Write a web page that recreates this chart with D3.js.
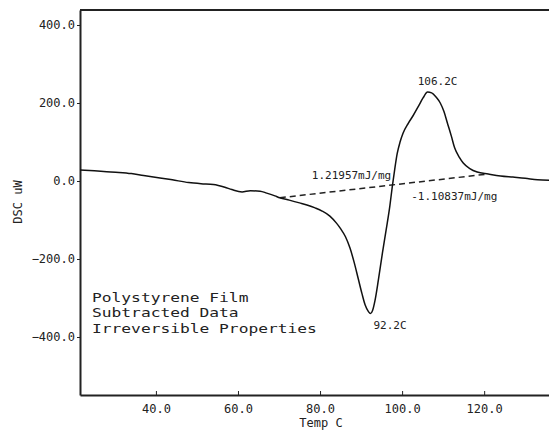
<!DOCTYPE html>
<html>
<head>
<meta charset="utf-8">
<script src="https://cdn.jsdelivr.net/npm/d3@7"></script>
<style>
  body { margin: 0; background: #fff; }
  text { font-family: "DejaVu Sans Mono", monospace; fill: #222; }
</style>
</head>
<body>
<div id="chart"></div>
<script>
// DSC trace (temp in C, signal in uW)
var temps = [21.5, 25, 28, 31, 34, 37, 41, 44, 48, 51, 54, 56.8, 58.5, 61, 63, 65.4, 67, 69, 70.2,
    72.5, 75, 77, 78.8, 80.5, 82.4, 84, 85, 86.2, 87.3, 88.3, 89.3, 90.2, 91, 91.8, 92.3, 92.8,
    93.4, 94.2, 95.2, 96.1, 97, 97.6, 98.2, 98.8, 99.5, 100.2, 101.5, 102.7, 104, 105.1, 106.2,
    107.2, 108.3, 109.3, 110.2, 111, 112, 112.8, 114, 114.9, 116.5, 118.3, 121, 124, 127, 130, 133, 135.8];
var dsc = [28, 26, 24, 22, 19, 14, 8, 3, -4, -7, -9, -16, -22, -28, -25, -26, -31, -38, -43,
    -49, -56, -62, -69, -77, -90, -108, -122, -143, -172, -208, -250, -288, -318, -335, -340, -332,
    -306, -255, -185, -126, -65, -15, 30, 70, 100, 122, 148, 168, 192, 213, 228,
    226, 215, 200, 178, 150, 115, 85, 60, 46, 32, 23, 18, 13, 10, 7, 3, 2];

// integration baseline end points
var baseT = [70.2, 121];
var baseY = [-43, 18];

var xTicks = [40, 60, 80, 100, 120];
var yTicks = [-400, -200, 0, 200, 400];
var noteLines = ["Polystyrene Film", "Subtracted Data", "Irreversible Properties"];

var width = 549, height = 430;
var margin = {top: 10, right: 0, bottom: 35, left: 80};

var svg = d3.select("#chart").append("svg")
    .attr("width", width)
    .attr("height", height);

var x = d3.scaleLinear().domain([21.5, 135.8]).range([margin.left, width - margin.right]);
var y = d3.scaleLinear().domain([-548.7, 438.5]).range([height - margin.bottom, margin.top]);

// axes
svg.append("g")
    .attr("transform", "translate(0," + (height - margin.bottom) + ")")
    .call(d3.axisBottom(x).tickValues(xTicks).tickFormat(d3.format(".1f"))
        .tickSizeInner(-4).tickSizeOuter(0).tickPadding(9));

svg.append("g")
    .attr("transform", "translate(" + margin.left + ",0)")
    .call(d3.axisLeft(y).tickValues(yTicks).tickFormat(d3.format(".1f"))
        .tickSizeInner(3).tickSizeOuter(0).tickPadding(2));

svg.selectAll(".domain").attr("stroke", "#222").attr("stroke-width", 2);
svg.selectAll(".tick line").attr("stroke", "#222");
svg.selectAll(".tick text").style("font-size", "12px").attr("fill", "#222");

// top frame line
svg.append("line")
    .attr("x1", x.range()[0]).attr("x2", x.range()[1])
    .attr("y1", y.range()[1]).attr("y2", y.range()[1])
    .attr("stroke", "#222").attr("stroke-width", 2);

// axis titles
svg.append("text")
    .attr("x", (x(xTicks[0]) + x(xTicks[xTicks.length - 1])) / 2 + 1)
    .attr("y", 427)
    .attr("text-anchor", "middle")
    .style("font-size", "12px")
    .text("Temp C");

svg.append("text")
    .attr("transform", "translate(22," + 202 + ") rotate(-90)")
    .attr("text-anchor", "middle")
    .style("font-size", "12px")
    .text("DSC uW");

// baseline (dashed)
svg.append("line")
    .attr("x1", x(baseT[0])).attr("y1", y(baseY[0]))
    .attr("x2", x(baseT[1])).attr("y2", y(baseY[1]))
    .attr("stroke", "#222")
    .attr("stroke-width", 1.5)
    .attr("stroke-dasharray", "6,4");

// trace
var line = d3.line()
    .x(function(d, i) { return x(temps[i]); })
    .y(function(d) { return y(d); })
    .curve(d3.curveMonotoneX);

svg.append("path")
    .datum(dsc)
    .attr("d", line)
    .attr("fill", "none")
    .attr("stroke", "#111")
    .attr("stroke-width", 1.5);

// peak annotations
var iMax = d3.maxIndex(dsc), iMin = d3.minIndex(dsc);

svg.append("text")
    .attr("x", x(temps[iMax]) + 10)
    .attr("y", y(dsc[iMax]) - 7)
    .attr("text-anchor", "middle")
    .style("font-size", "11px")
    .text("106.2C");

svg.append("text")
    .attr("x", x(temps[iMin]) + 3)
    .attr("y", y(dsc[iMin]) + 15)
    .style("font-size", "11px")
    .text("92.2C");

// area labels near the crossing of the baseline
var crossT = 97.6;
var crossY = baseY[0] + (baseY[1] - baseY[0]) * (crossT - baseT[0]) / (baseT[1] - baseT[0]);

svg.append("text")
    .attr("x", x(crossT) - 1)
    .attr("y", y(crossY) - 6)
    .attr("text-anchor", "end")
    .style("font-size", "11px")
    .text("1.21957mJ/mg");

svg.append("text")
    .attr("x", x(crossT) + 19)
    .attr("y", y(crossY) + 15)
    .style("font-size", "11px")
    .text("-1.10837mJ/mg");

// sample note (plotter font is wide, so stretch it sideways)
svg.append("g")
    .attr("transform", "translate(92,0) scale(1.25,1)")
    .selectAll("text")
    .data(noteLines)
    .join("text")
    .attr("x", 0)
    .attr("y", function(d, i) { return 302 + i * 15.4; })
    .style("font-size", "13px")
    .text(function(d) { return d; });
</script>
</body>
</html>
